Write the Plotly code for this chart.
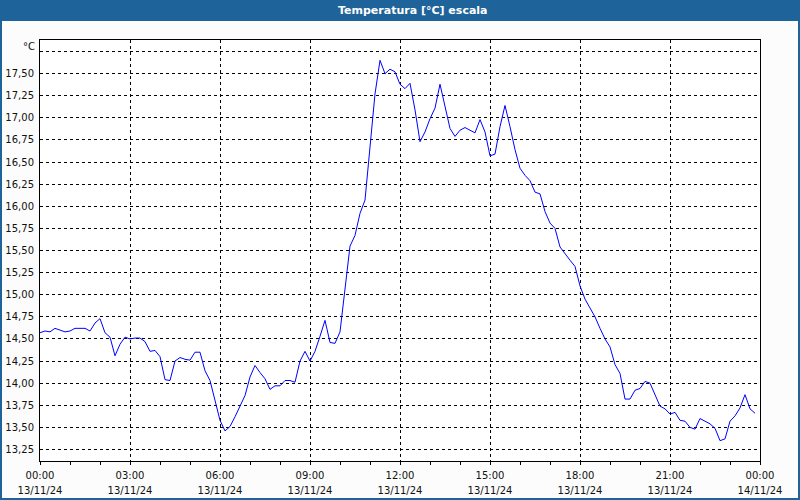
import pandas as pd
import plotly.graph_objects as go

# ---- data (10-minute readings, 13/11/24) ----
start_time = "2024-11-13 00:00"
temperature = [
    14.57, 14.59, 14.58, 14.62, 14.60, 14.58, 14.59, 14.62, 14.62, 14.62,
    14.59, 14.68, 14.73, 14.57, 14.52, 14.31, 14.44, 14.52, 14.50, 14.51,
    14.51, 14.47, 14.36, 14.37, 14.30, 14.04, 14.03, 14.25, 14.29, 14.27,
    14.26, 14.35, 14.35, 14.14, 14.03, 13.81, 13.58, 13.46, 13.51, 13.62,
    13.74, 13.86, 14.07, 14.20, 14.12, 14.05, 13.93, 13.97, 13.97, 14.03,
    14.03, 14.01, 14.25, 14.36, 14.25, 14.36, 14.53, 14.71, 14.46, 14.45,
    14.58, 15.05, 15.55, 15.67, 15.92, 16.07, 16.70, 17.27, 17.65, 17.50,
    17.55, 17.52, 17.38, 17.33, 17.39, 17.09, 16.73, 16.84, 16.99, 17.11,
    17.38, 17.12, 16.88, 16.79, 16.86, 16.89, 16.86, 16.83, 16.98, 16.84,
    16.57, 16.59, 16.90, 17.14, 16.90, 16.64, 16.43, 16.35, 16.29, 16.16,
    16.14, 15.94, 15.81, 15.75, 15.54, 15.46, 15.39, 15.32, 15.10, 14.95,
    14.85, 14.75, 14.62, 14.50, 14.41, 14.21, 14.11, 13.82, 13.82, 13.92,
    13.94, 14.02, 14.00, 13.87, 13.74, 13.71, 13.65, 13.67, 13.58, 13.57,
    13.50, 13.48, 13.60, 13.57, 13.54, 13.49, 13.35, 13.37, 13.57, 13.63,
    13.72, 13.87, 13.71, 13.66,
]
times = pd.date_range(start_time, periods=len(temperature), freq="10min")

x_tick_values = ["2024-11-13 00:00", "2024-11-13 03:00", "2024-11-13 06:00",
                 "2024-11-13 09:00", "2024-11-13 12:00", "2024-11-13 15:00",
                 "2024-11-13 18:00", "2024-11-13 21:00", "2024-11-14 00:00"]
x_tick_hours = ["00:00", "03:00", "06:00", "09:00", "12:00", "15:00",
                "18:00", "21:00", "00:00"]
x_tick_dates = ["13/11/24"] * 8 + ["14/11/24"]

y_tick_values = [13.25, 13.50, 13.75, 14.00, 14.25, 14.50, 14.75, 15.00, 15.25,
                 15.50, 15.75, 16.00, 16.25, 16.50, 16.75, 17.00, 17.25, 17.50, 17.75]
y_tick_labels = ["13,25", "13,50", "13,75", "14,00", "14,25", "14,50", "14,75",
                 "15,00", "15,25", "15,50", "15,75", "16,00", "16,25", "16,50",
                 "16,75", "17,00", "17,25", "17,50", ""]

title_text = "Temperatura [°C] escala"
unit_text = "°C"

# ---- figure ----
W, H = 800, 500
ML, MR, MT, MB = 40, 40, 40, 39
PW, PH = W - ML - MR, H - MT - MB


def px(x):
    return (x - ML) / PW


def py(y):
    return (H - MB - y) / PH


FONT = "DejaVu Sans"
BAR = "#1E6399"
BG = "#FBFCFB"

fig = go.Figure()
fig.add_trace(go.Scatter(x=times, y=temperature, mode="lines",
                         line=dict(color="#0000FF", width=1),
                         hoverinfo="skip", showlegend=False))
fig.add_trace(go.Scatter(x=times, y=temperature, mode="lines", xaxis="x2",
                         line=dict(color="rgba(0,0,0,0)", width=0),
                         hoverinfo="skip", showlegend=False))

grid = dict(showgrid=True, gridcolor="#000000", gridwidth=1, griddash="3px,3px")

fig.update_layout(
    width=W, height=H,
    margin=dict(l=ML, r=MR, t=MT, b=MB, pad=0, autoexpand=False),
    paper_bgcolor=BG, plot_bgcolor="#FFFFFF",
    font=dict(family=FONT, size=10, color="#111111"),
    xaxis=dict(
        type="date", automargin=False,
        range=["2024-11-13 00:00", "2024-11-14 00:00"],
        tickmode="array", tickvals=x_tick_values, ticktext=x_tick_hours,
        ticks="outside", ticklen=3, tickcolor="#000000",
        minor=dict(dtick=3600000, ticks="outside", ticklen=3, tickcolor="#000000",
                   showgrid=False),
        showline=True, linecolor="#000000", linewidth=1, mirror=True,
        zeroline=False, ticklabelstandoff=2,
        **grid,
    ),
    xaxis2=dict(
        type="date", overlaying="x", matches="x", side="bottom", anchor="y",
        automargin=False,
        range=["2024-11-13 00:00", "2024-11-14 00:00"],
        tickmode="array", tickvals=x_tick_values, ticktext=x_tick_dates,
        ticks="", showline=False, showgrid=False, zeroline=False,
        ticklabelstandoff=22,
    ),
    yaxis=dict(
        range=[13.12, 17.88], automargin=False,
        tickmode="array", tickvals=y_tick_values, ticktext=y_tick_labels,
        ticks="", showline=True, linecolor="#000000", linewidth=1, mirror=True,
        zeroline=False, ticklabelstandoff=3,
        **grid,
    ),
    shapes=[
        dict(type="rect", xref="paper", yref="paper", x0=px(0), x1=px(W),
             y0=py(21), y1=py(0), fillcolor=BAR, line=dict(width=0), layer="above"),
        dict(type="rect", xref="paper", yref="paper", x0=px(0), x1=px(2),
             y0=py(H), y1=py(0), fillcolor=BAR, line=dict(width=0), layer="above"),
        dict(type="rect", xref="paper", yref="paper", x0=px(W - 2), x1=px(W),
             y0=py(H), y1=py(0), fillcolor=BAR, line=dict(width=0), layer="above"),
        dict(type="rect", xref="paper", yref="paper", x0=px(0), x1=px(W),
             y0=py(H), y1=py(H - 2), fillcolor=BAR, line=dict(width=0), layer="above"),
    ],
    annotations=[
        dict(text="<b>" + title_text + "</b>", xref="paper", yref="paper",
             x=px(413), y=py(10.5), xanchor="center", yanchor="middle",
             showarrow=False, font=dict(family=FONT, size=11, color="#FFFFFF")),
        dict(text=unit_text, xref="paper", yref="paper",
             x=px(37), y=py(46.5), xanchor="right", yanchor="middle",
             showarrow=False, font=dict(family=FONT, size=10, color="#111111")),
    ],
)

fig.write_html("out.html")
